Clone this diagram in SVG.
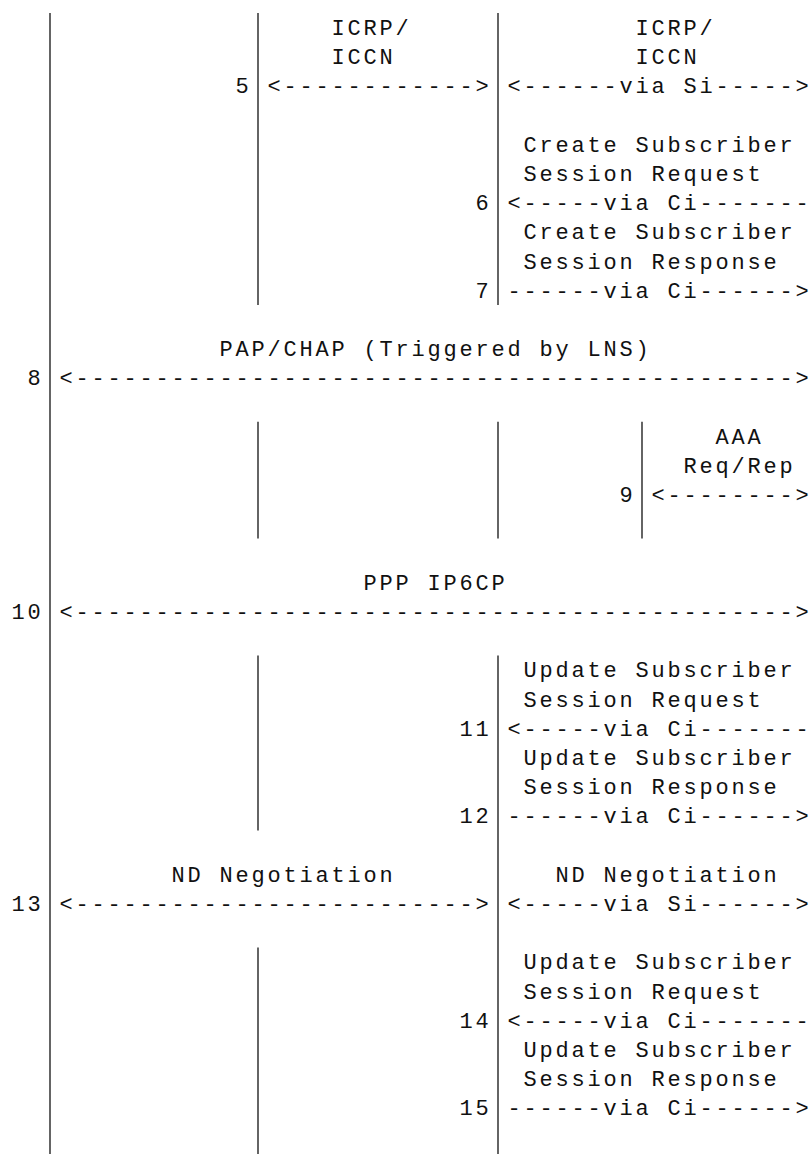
<svg xmlns="http://www.w3.org/2000/svg" width="811" height="1154" viewBox="0 0 811 1154">
<style>
text{font-family:"Liberation Mono","DejaVu Sans Mono",monospace;font-size:22px;letter-spacing:2.8px;fill:#111;white-space:pre}
.ll{stroke:#111;stroke-width:1.3;fill:none}
</style>
<rect width="811" height="1154" fill="#fff"/>
<g id="lifelines">
<line class="ll" x1="50" y1="13" x2="50" y2="1154"/>
<line class="ll" x1="258" y1="13" x2="258" y2="305"/>
<line class="ll" x1="258" y1="421.8" x2="258" y2="538.6"/>
<line class="ll" x1="258" y1="655.4" x2="258" y2="830.6"/>
<line class="ll" x1="258" y1="947.4" x2="258" y2="1154"/>
<line class="ll" x1="498" y1="13" x2="498" y2="305"/>
<line class="ll" x1="498" y1="421.8" x2="498" y2="538.6"/>
<line class="ll" x1="498" y1="655.4" x2="498" y2="1154"/>
<line class="ll" x1="642" y1="421.8" x2="642" y2="538.6"/>
</g>
<g id="connectors">
<g id="msg5">
<text x="331.4" y="35">ICRP/</text>
<text x="331.4" y="64.2">ICCN</text>
<text x="635.4" y="35">ICRP/</text>
<text x="635.4" y="64.2">ICCN</text>
<text x="235.4" y="93.4">5</text>
<text x="267.4" y="93.4">&lt;------------&gt;</text>
<text x="507.4" y="93.4">&lt;------via Si-----&gt;</text>
</g>
<g id="msg6">
<text x="523.4" y="151.8">Create Subscriber</text>
<text x="523.4" y="181">Session Request</text>
<text x="475.4" y="210.2">6</text>
<text x="507.4" y="210.2">&lt;-----via Ci-------</text>
</g>
<g id="msg7">
<text x="523.4" y="239.4">Create Subscriber</text>
<text x="523.4" y="268.6">Session Response</text>
<text x="475.4" y="297.8">7</text>
<text x="507.4" y="297.8">------via Ci------&gt;</text>
</g>
<g id="msg8">
<text x="219.4" y="356.2">PAP/CHAP (Triggered by LNS)</text>
<text x="27.4" y="385.4">8</text>
<text x="59.4" y="385.4">&lt;---------------------------------------------&gt;</text>
</g>
<g id="msg9">
<text x="715.4" y="443.8">AAA</text>
<text x="683.4" y="473">Req/Rep</text>
<text x="619.4" y="502.2">9</text>
<text x="651.4" y="502.2">&lt;--------&gt;</text>
</g>
<g id="msg10">
<text x="363.4" y="589.8">PPP IP6CP</text>
<text x="11.4" y="619">10</text>
<text x="59.4" y="619">&lt;---------------------------------------------&gt;</text>
</g>
<g id="msg11">
<text x="523.4" y="677.4">Update Subscriber</text>
<text x="523.4" y="706.6">Session Request</text>
<text x="459.4" y="735.8">11</text>
<text x="507.4" y="735.8">&lt;-----via Ci-------</text>
</g>
<g id="msg12">
<text x="523.4" y="765">Update Subscriber</text>
<text x="523.4" y="794.2">Session Response</text>
<text x="459.4" y="823.4">12</text>
<text x="507.4" y="823.4">------via Ci------&gt;</text>
</g>
<g id="msg13">
<text x="171.4" y="881.8">ND Negotiation</text>
<text x="555.4" y="881.8">ND Negotiation</text>
<text x="11.4" y="911">13</text>
<text x="59.4" y="911">&lt;-------------------------&gt;</text>
<text x="507.4" y="911">&lt;-----via Si------&gt;</text>
</g>
<g id="msg14">
<text x="523.4" y="969.4">Update Subscriber</text>
<text x="523.4" y="998.6">Session Request</text>
<text x="459.4" y="1027.8">14</text>
<text x="507.4" y="1027.8">&lt;-----via Ci-------</text>
</g>
<g id="msg15">
<text x="523.4" y="1057">Update Subscriber</text>
<text x="523.4" y="1086.2">Session Response</text>
<text x="459.4" y="1115.4">15</text>
<text x="507.4" y="1115.4">------via Ci------&gt;</text>
</g>
</g>
</svg>
